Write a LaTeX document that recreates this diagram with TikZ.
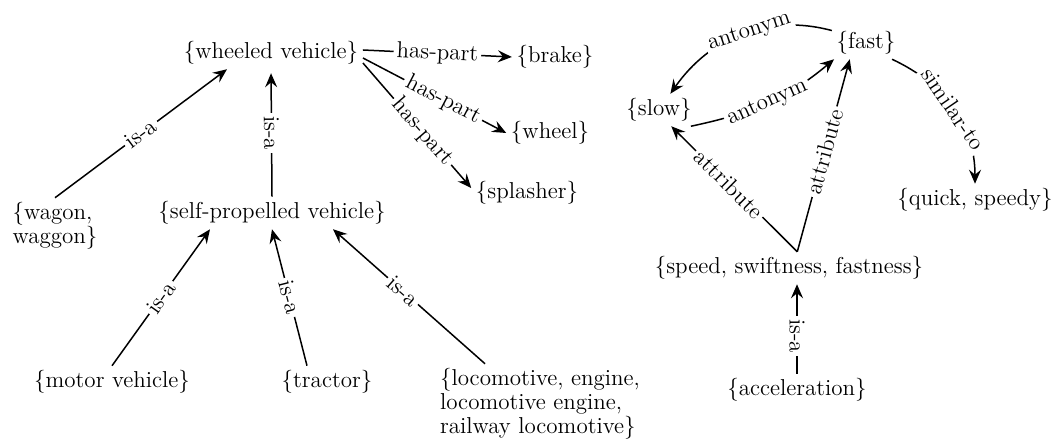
\documentclass[tikz,border=0pt]{standalone}
\usepackage{tikz}
\usetikzlibrary{arrows.meta}

\begin{document}
\begin{tikzpicture}[x=0.5pt,y=0.5pt,line width=0.75pt,
    >={Stealth[length=7pt,width=6pt,inset=2.5pt]},
    every node/.style={font=\fontsize{11.5}{12}\selectfont},
    syn/.style={inner sep=2pt},
    rel/.style={fill=white,inner sep=1.5pt,sloped}]
    \useasboundingbox (0,0) rectangle (1052,443);

    % noun synsets %
    \node[syn] (wheeled) at (271,390) {\{wheeled vehicle\}};
    \node[syn] (brake) at (555,386) {\{brake\}};
    \node[syn] (wheel) at (550,310) {\{wheel\}};
    \node[syn] (splasher) at (527,250) {\{splasher\}};
    \node[syn,align=left] (wagon) at (55,217) {\{wagon,\\waggon\}};
    \node[syn] (selfprop) at (272,230) {\{self-propelled vehicle\}};
    \node[syn] (motor) at (112,61) {\{motor vehicle\}};
    \node[syn] (tractor) at (327,61) {\{tractor\}};
    \node[syn,align=left] (loco) at (540,39) {\{locomotive, engine,\\locomotive engine,\\railway locomotive\}};

    % adjective and noun synsets %
    \node[syn] (slow) at (659,333) {\{slow\}};
    \node[syn] (fast) at (866,400) {\{fast\}};
    \node[syn] (quick) at (975,243) {\{quick, speedy\}};
    \node[syn] (speed) at (789,175) {\{speed, swiftness, fastness\}};
    \node[syn] (accel) at (797,53) {\{acceleration\}};

    % is-a and has-part links %
    \draw[->] (wagon.north) -- node[rel]{is-a} ([xshift=-22pt]wheeled.south);
    \draw[<-,shorten <=2pt] (wheeled.south) -- node[rel]{is-a} (selfprop.north);
    \draw[->] ([yshift=1.5pt]wheeled.east) -- node[rel]{has-part} (brake.west);
    \draw[->] ([yshift=-2.5pt]wheeled.east) -- node[rel,pos=0.56]{has-part} (wheel.west);
    \draw[->] ([yshift=-5pt]wheeled.east) -- node[rel,pos=0.55]{has-part} ([yshift=2.5pt]splasher.west);
    \draw[->] (motor.north) -- node[rel]{is-a} ([xshift=-31pt]selfprop.south);
    \draw[->] ([xshift=-10pt]tractor.north) -- node[rel]{is-a} (selfprop.south);
    \draw[->] ([xshift=-27.5pt]loco.north) -- node[rel,pos=0.54]{is-a} ([xshift=30.5pt]selfprop.south);

    % antonym, attribute and similar-to links %
    \draw[->] (fast.160) to[out=165,in=55] node[rel,pos=0.45]{antonym} (slow.55);
    \draw[->] (slow.-27) to[out=12,in=220] node[rel]{antonym} (fast.207);
    \draw[->] (speed.63) -- node[rel,pos=0.54]{attribute} (slow.-53);
    \draw[->] (speed.63) -- node[rel,pos=0.52]{attribute} (fast.225);
    \draw[->] (fast.-32) to[out=-25,in=90] node[rel]{similar-to} (quick.north);
    \draw[<-] (speed.south -| accel.north) -- node[rel,pos=0.58]{is-a} (accel.north);
\end{tikzpicture}
\end{document}
